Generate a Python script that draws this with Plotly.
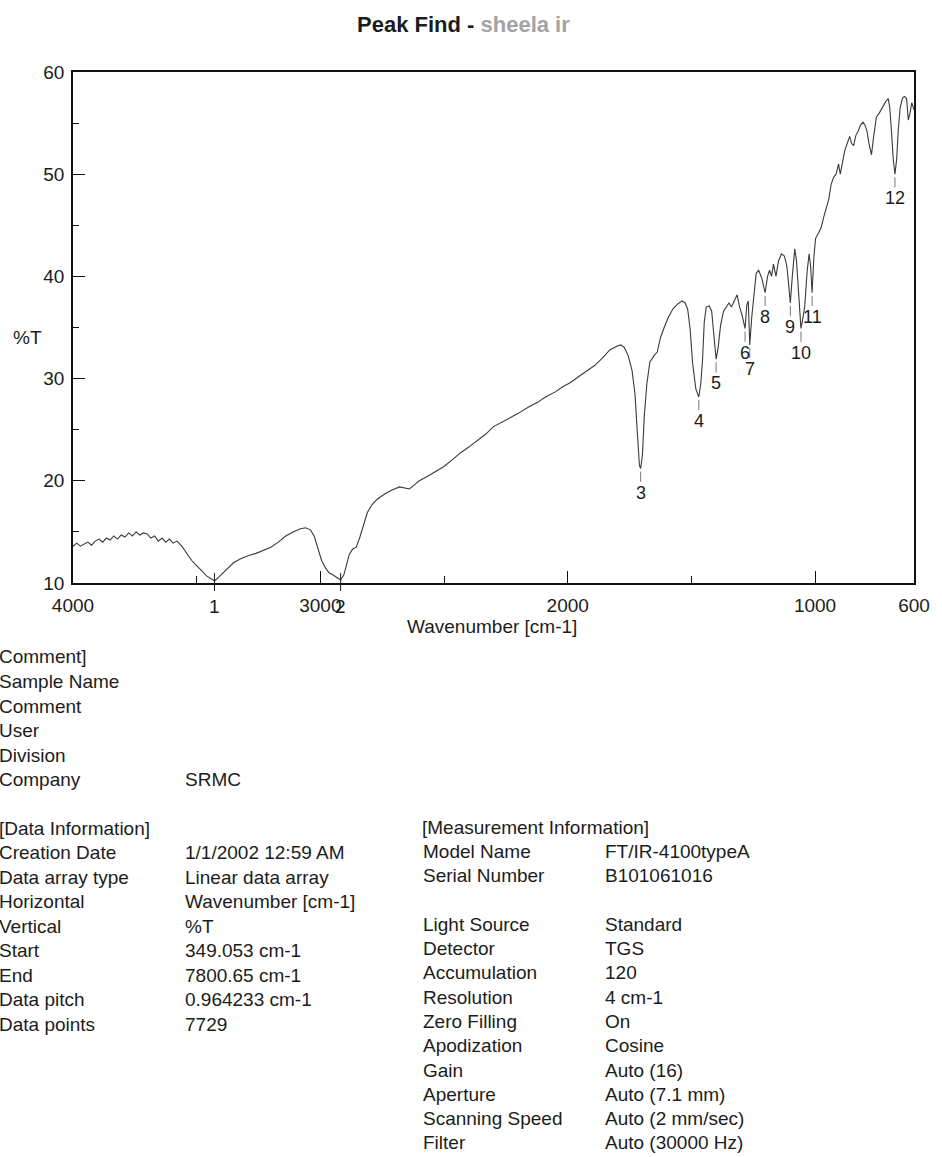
import plotly.graph_objects as go

# ---- IR spectrum (wavenumber in cm-1, transmittance in %T) ----
wavenumber = [
    4000, 3985, 3970, 3955, 3940, 3925, 3910, 3895, 3880, 3865, 3850, 3835,
    3820, 3805, 3790, 3775, 3760, 3745, 3730, 3715, 3700, 3685, 3670, 3655,
    3640, 3625, 3610, 3595, 3580, 3560, 3540,
    3520, 3500, 3480, 3460, 3440, 3428, 3410, 3390, 3370, 3350, 3320, 3290,
    3260, 3230, 3200, 3170, 3140, 3110, 3080, 3060, 3040, 3025, 3010, 2995,
    2980, 2965, 2950, 2935, 2918, 2905, 2893, 2883, 2870, 2855, 2840, 2825,
    2810, 2790, 2770, 2740, 2710, 2680, 2660, 2640, 2620, 2600, 2570, 2540,
    2500, 2460, 2430, 2400, 2360, 2330, 2300, 2260, 2230, 2200, 2160, 2120,
    2090, 2050, 2020, 1990, 1955, 1920, 1890, 1860, 1830, 1800, 1785, 1770,
    1755, 1740, 1728, 1718, 1710, 1705, 1698, 1690, 1680, 1668, 1650, 1638,
    1625, 1610, 1593, 1575, 1555, 1538, 1525, 1515, 1505, 1495, 1482, 1470,
    1462, 1455, 1448, 1440, 1428, 1418, 1410, 1400, 1392, 1382, 1370, 1360,
    1348, 1338, 1326, 1315, 1305, 1295, 1283, 1276, 1270, 1264, 1256, 1248,
    1238, 1228, 1215, 1202, 1192, 1184, 1176, 1168, 1158, 1148, 1136, 1124,
    1114, 1106, 1100, 1092, 1082, 1075, 1068, 1062, 1057, 1050, 1042, 1032,
    1024, 1018, 1012, 1005, 998, 985, 975, 965, 955, 945, 935, 925,
    915, 905, 898, 890, 880, 870, 860, 852, 844, 835, 826, 816,
    806, 798, 790, 782, 772, 764, 752, 740, 725, 712, 704, 698,
    691, 684, 677, 670, 664, 656, 646, 638, 630, 623, 616, 609, 600,
]
transmittance = [
    13.6, 13.9, 13.6, 13.8, 14.0, 13.7, 14.1, 14.3, 14.0, 14.4, 14.2, 14.6,
    14.3, 14.7, 14.5, 14.9, 14.6, 15.0, 14.7, 14.9, 14.8, 14.4, 14.6, 14.1,
    14.4, 14.0, 14.3, 13.9, 14.1, 13.6, 12.9,
    12.2, 11.7, 11.2, 10.7, 10.4, 10.2, 10.6, 11.1, 11.6, 12.0, 12.4, 12.7,
    12.9, 13.2, 13.5, 14.0, 14.6, 15.0, 15.3, 15.4, 15.2, 14.6, 13.4, 12.2,
    11.5, 11.0, 10.8, 10.6, 10.3, 10.8, 11.8, 12.8, 13.3, 13.5, 14.5, 15.8,
    16.9, 17.7, 18.2, 18.7, 19.1, 19.4, 19.3, 19.2, 19.6, 20.0, 20.4, 20.8,
    21.4, 22.2, 22.8, 23.3, 24.0, 24.6, 25.3, 25.8, 26.2, 26.6, 27.2, 27.7,
    28.2, 28.7, 29.2, 29.6, 30.2, 30.8, 31.3, 32.0, 32.8, 33.2, 33.3, 33.0,
    32.2, 30.8, 28.5, 24.5, 21.5, 21.2, 22.5, 26.5, 29.5, 31.6, 32.3, 32.6,
    34.0, 35.0, 36.0, 36.8, 37.3, 37.6, 37.4, 36.8, 34.8, 31.5, 29.0, 28.2,
    29.5, 31.8, 35.5, 37.0, 37.1, 36.6, 34.5, 31.9, 33.0, 35.2, 36.6, 37.0,
    37.4, 37.0, 37.6, 38.2, 37.0, 36.2, 34.9, 37.2, 37.6, 33.3, 36.0, 38.0,
    40.3, 40.6, 39.8, 38.4, 40.0, 40.6, 40.0, 41.2, 40.0, 41.5, 42.2, 42.0,
    41.0, 39.0, 37.4, 40.0, 42.7, 41.5, 39.0, 36.5, 34.9, 35.8, 37.0, 40.5,
    42.2, 41.0, 38.4, 41.8, 43.7, 44.3, 44.8, 45.8, 46.6, 47.5, 49.0, 49.7,
    50.0, 51.0, 50.0, 51.2, 52.3, 53.0, 53.7, 53.0, 52.8, 53.8, 54.2, 54.8,
    55.1, 54.8, 54.2, 53.0, 51.9, 53.5, 55.6, 56.0, 56.7, 57.2, 57.4, 56.5,
    54.2, 51.5, 50.0, 51.5, 54.2, 56.5, 57.5, 57.6, 57.4, 55.3, 56.0, 57.0, 56.3,
]

# ---- picked peaks ----
peak_labels = ["1", "2", "3", "4", "5", "6", "7", "8", "9", "10", "11", "12"]
peak_wn = [3428, 2918, 1705, 1470, 1400, 1283, 1264, 1202, 1100, 1057, 1012, 677]
peak_t = [10.2, 10.3, 21.2, 28.2, 31.9, 34.9, 33.3, 38.4, 37.4, 34.9, 38.4, 50.0]

# ---- axis ticks ----
x_tickvals = [4000, 3000, 2000, 1000, 600]
x_ticktext = ["4000", "3000", "2000", "1000", "600"]
x_minor = [3500, 2500, 1500]
y_tickvals = [10, 20, 30, 40, 50, 60]

# ---- report text ----
comment_fields = ["Comment]", "Sample Name", "Comment", "User", "Division", "Company"]
comment_values = ["", "", "", "", "", "SRMC"]
data_fields = ["Creation Date", "Data array type", "Horizontal", "Vertical",
               "Start", "End", "Data pitch", "Data points"]
data_values = ["1/1/2002 12:59 AM", "Linear data array", "Wavenumber [cm-1]", "%T",
               "349.053 cm-1", "7800.65 cm-1", "0.964233 cm-1", "7729"]
meas_fields = ["Model Name", "Serial Number", "", "Light Source", "Detector",
               "Accumulation", "Resolution", "Zero Filling", "Apodization", "Gain",
               "Aperture", "Scanning Speed", "Filter"]
meas_values = ["FT/IR-4100typeA", "B101061016", "", "Standard", "TGS", "120",
               "4 cm-1", "On", "Cosine", "Auto (16)", "Auto (7.1 mm)",
               "Auto (2 mm/sec)", "Auto (30000 Hz)"]

FONT = "Liberation Sans, Arial, sans-serif"
INK = "#1c1c1c"
FIG_W, FIG_H = 942, 1157
L, R, T, B = 73, 925, 72, 583
PW, PH = R - L, B - T


def px(x):
    return (x - L) / PW


def py(y):
    return (B - y) / PH


fig = go.Figure()
fig.add_trace(go.Scatter(
    x=wavenumber, y=transmittance, mode="lines",
    line=dict(color="#3a3a3a", width=1.1),
    hoverinfo="x+y", showlegend=False,
))

annotations = []
shapes = []

# peak numbers and their short marker strokes
for lab, wn, t in zip(peak_labels, peak_wn, peak_t):
    if t < 12:
        # peaks sitting on the baseline: marker crosses the x axis, number below it
        shapes.append(dict(type="line", xref="x", yref="paper",
                           x0=wn, x1=wn, y0=-8 / PH, y1=10 / PH,
                           line=dict(color=INK, width=1)))
        annotations.append(dict(x=wn, y=10, xref="x", yref="y", text=lab,
                                showarrow=False, yanchor="top", yshift=-11,
                                font=dict(family=FONT, size=19, color=INK)))
    else:
        shapes.append(dict(type="line", xref="x", yref="y",
                           x0=wn, x1=wn, y0=t - 0.3, y1=t - 1.3,
                           line=dict(color="#777777", width=1)))
        annotations.append(dict(x=wn, y=t, xref="x", yref="y", text=lab,
                                showarrow=False, yanchor="top", yshift=-12,
                                font=dict(family=FONT, size=18, color=INK)))

# axis titles and page title
annotations.append(dict(x=px(27), y=py(337), xref="paper", yref="paper", text="%T",
                        showarrow=False, xanchor="center", yanchor="middle",
                        font=dict(family=FONT, size=19, color=INK)))
annotations.append(dict(x=px(497), y=py(626), xref="paper", yref="paper",
                        text="Wavenumber [cm-1]", showarrow=False,
                        xanchor="center", yanchor="middle",
                        font=dict(family=FONT, size=19, color=INK)))
annotations.append(dict(x=px(469), y=py(24), xref="paper", yref="paper",
                        text="<b>Peak Find - <span style='color:#a3a3a3'>sheela ir</span></b>",
                        showarrow=False, xanchor="center", yanchor="middle",
                        font=dict(family=FONT, size=22, color=INK)))


def add_row(text, x, y):
    if text:
        annotations.append(dict(x=px(x), y=py(y), xref="paper", yref="paper",
                                text=text, showarrow=False, xanchor="left",
                                yanchor="middle",
                                font=dict(family=FONT, size=19, color=INK)))


STEP = 24.5
LEFT_X = -4
for i, (f, v) in enumerate(zip(comment_fields, comment_values)):
    y = 657 + STEP * i
    add_row(f, LEFT_X, y)
    add_row(v, 184, y)

add_row("[Data Information]", LEFT_X, 828)
for i, (f, v) in enumerate(zip(data_fields, data_values)):
    y = 828 + STEP * (i + 1)
    add_row(f, LEFT_X, y)
    add_row(v, 184, y)

add_row("[Measurement Information]", 425, 827)
for i, (f, v) in enumerate(zip(meas_fields, meas_values)):
    y = 827 + 24.3 * (i + 1)
    add_row(f, 426, y)
    add_row(v, 610, y)

axis_common = dict(showline=True, linecolor="#111111", linewidth=1.5, mirror=True,
                   showgrid=False, zeroline=False, ticks="inside", ticklen=12,
                   tickwidth=1.2, tickcolor="#111111",
                   tickfont=dict(family=FONT, size=19, color=INK))

fig.update_layout(
    width=FIG_W, height=FIG_H,
    margin=dict(l=L, r=FIG_W - R, t=T, b=FIG_H - B),
    paper_bgcolor="white", plot_bgcolor="white",
    xaxis=dict(range=[4000, 600], tickmode="array", tickvals=x_tickvals,
               ticktext=x_ticktext, ticklabelstandoff=4,
               minor=dict(tickmode="array", tickvals=x_minor, ticks="inside",
                          ticklen=7, tickcolor="#111111", tickwidth=1.2),
               **axis_common),
    yaxis=dict(range=[10, 60], tickmode="array", tickvals=y_tickvals,
               ticklabelstandoff=3,
               minor=dict(dtick=5, ticks="inside", ticklen=6,
                          tickcolor="#111111", tickwidth=1.2),
               **axis_common),
    annotations=annotations,
    shapes=shapes,
    showlegend=False,
)

fig.write_html("out.html")
